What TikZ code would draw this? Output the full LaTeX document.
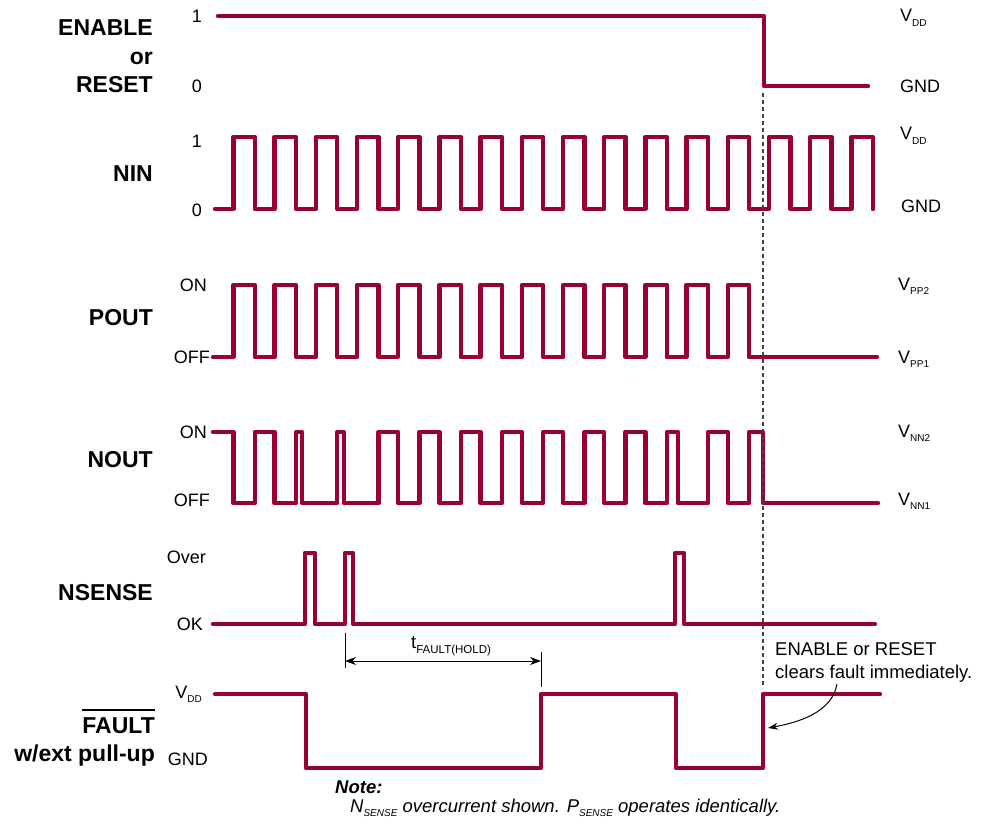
\documentclass[tikz,border=0pt]{standalone}
\usepackage{fontspec}
\setmainfont{Liberation Sans}
\usetikzlibrary{arrows.meta,positioning}
\definecolor{SigRed}{HTML}{990033}
\definecolor{GuideGray}{HTML}{444444}
\newcommand{\railsub}[2]{#1\raisebox{-4.5pt}{\fontsize{10}{10}\selectfont #2}}

\begin{document}
\begin{tikzpicture}[x=1pt,y=-1pt,
  sig/.style={draw=SigRed,line width=4.4pt,line join=round,line cap=round},
  sname/.style={anchor=base east,inner sep=0pt,font=\fontsize{23}{29}\selectfont\bfseries},
  lvl/.style={anchor=base east,inner sep=0pt,font=\fontsize{18}{20}\selectfont},
  rail/.style={anchor=base west,inner sep=0pt,font=\fontsize{18}{20}\selectfont},
  guide/.style={draw=GuideGray,line width=1.3pt,dash pattern=on 4pt off 3pt},
  dimarr/.style={{Stealth[length=11pt,width=8pt]}-{Stealth[length=11pt,width=8pt]},line width=1pt},
  a/.style={-{Stealth[length=10pt,width=7pt]},line width=1pt}
]
  \useasboundingbox (0,0) rectangle (981,826);

  % signal names
  \node[sname] (en) at (153,36) {ENABLE};
  \node[sname] (enor) at (153,65) {or};
  \node[sname] (rst) at (153,93) {RESET};
  \node[sname] (nin) at (153,182) {NIN};
  \node[sname] (pout) at (153,325) {POUT};
  \node[sname] (nout) at (153,467) {NOUT};
  \node[sname] (nsense) at (153,600) {NSENSE};
  \node[sname] (flt) at (155,733) {FAULT};
  \draw[line width=1.6pt] ([yshift=7pt]flt.north west) -- ([yshift=7pt]flt.north east);
  \node[sname] (wext) at (155,761) {w/ext pull-up};

  % level labels
  \node[lvl] (en1) at (202,23) {1};
  \node[lvl] (en0) at (202,93) {0};
  \node[lvl] (nin1) at (202,148) {1};
  \node[lvl] (nin0) at (202,216) {0};
  \node[lvl] (pon) at (207,291) {ON};
  \node[lvl] (poff) at (210,363) {OFF};
  \node[lvl] (non) at (207,438) {ON};
  \node[lvl] (noff) at (210,506) {OFF};
  \node[lvl] (sover) at (206,563) {Over};
  \node[lvl] (sok) at (203,630) {OK};
  \node[lvl] (fvdd) at (202,698) {\railsub{V}{DD}};
  \node[lvl] (fgnd) at (208,765) {GND};

  % rail labels
  \node[rail] (rvdd1) at (900,22) {\railsub{V}{DD}};
  \node[rail] (rgnd1) at (900,93) {GND};
  \node[rail] (rvdd2) at (900,140) {\railsub{V}{DD}};
  \node[rail] (rgnd2) at (901,212) {GND};
  \node[rail] (rvpp2) at (898,290) {\railsub{V}{PP2}};
  \node[rail] (rvpp1) at (898,363) {\railsub{V}{PP1}};
  \node[rail] (rvnn2) at (898,437) {\railsub{V}{NN2}};
  \node[rail] (rvnn1) at (898,505) {\railsub{V}{NN1}};

  % waveforms
  \draw[sig] (218,16) -- (764,16) -- (764,86) -- (868,86);
  \draw[sig] (215,209) foreach \k in {0,...,15}{
    -- ({233.3+41.2*\k},209) |- ({254.8+41.2*\k},137) -- ({254.8+41.2*\k},209)};
  \draw[sig] (213,357) foreach \k in {0,...,12}{
    -- ({233.3+41.2*\k},357) |- ({254.8+41.2*\k},285) -- ({254.8+41.2*\k},357)} -- (877,357);
  \draw[sig] (213,432) -- (233.3,432) -- (233.3,503)
    foreach \a/\b in {254.8/274.5,296/302,337.2/344,378.4/398.1,419.6/439.3,460.8/480.5,
      502/521.7,543.2/562.9,584.4/604.1,625.6/645.3,666.8/678,708/727.7,749.2/763}{
    -- (\a,503) |- (\b,432) -- (\b,503)} -- (878,503);
  \draw[sig] (213,624) foreach \a/\b in {305/315,345/353,675/684}{
    -- (\a,624) |- (\b,553) -- (\b,624)} -- (875,624);
  \draw[sig] (215,694) -- (306,694) -- (306,768) -- (541,768) -- (541,694)
    -- (676,694) -- (676,768) -- (763,768) -- (763,694) -- (880,694);

  % disable guide
  \coordinate (gtop) at (763,93);
  \coordinate (gbot) at (763,688);
  \draw[guide] (gtop) -- (gbot);

  % fault hold time
  \coordinate (holdL) at (345,661);
  \coordinate (holdR) at (541,661);
  \draw[line width=1pt] (345,633) -- (345,668);
  \draw[line width=1pt] (541,652) -- (541,687);
  \draw[dimarr] (holdL) -- (holdR);
  \node[anchor=base west,inner sep=0pt,font=\fontsize{18.5}{20}\selectfont] (thold) at (411,648)
    {t\raisebox{-5pt}{\fontsize{11.5}{11.5}\selectfont FAULT(HOLD)}};

  % clear annotation
  \node[anchor=north west,inner sep=0pt,align=left,font=\fontsize{18.5}{23}\selectfont] (clrnote)
    at (775,642) {ENABLE or RESET\\clears fault immediately.};
  \coordinate (clrtail) at (837,684);
  \coordinate (fltup) at (768,728);
  \draw[a] (clrtail) .. controls (832,712) and (800,722) .. (fltup);

  % note
  \node[anchor=base west,inner sep=0pt,font=\fontsize{18.5}{20}\selectfont\bfseries\itshape] (note)
    at (335,793) {Note:};
  \node[anchor=base west,inner sep=0pt,font=\fontsize{18.5}{20}\selectfont\itshape] (notetxt)
    at (350,812) {\railsub{N}{SENSE} overcurrent shown. \railsub{P}{SENSE} operates identically.};
\end{tikzpicture}
\end{document}
